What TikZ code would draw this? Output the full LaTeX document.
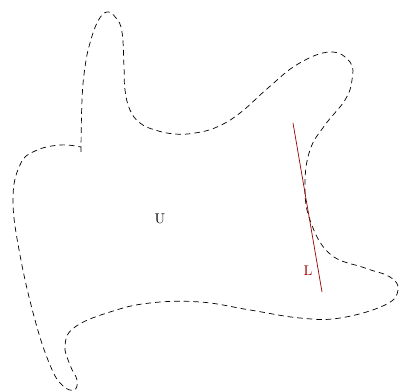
\documentclass[tikz,border=0pt]{standalone}
\usetikzlibrary{positioning}

\begin{document}
\begin{tikzpicture}[
    x=0.025cm, y=-0.025cm,
    region/.style={draw, dash pattern=on 4pt off 2.8pt, line width=0.5pt},
    tangent/.style={draw=red!60!black, line width=0.5pt},
    lbl/.style={inner sep=1pt, font=\normalsize}
]
\useasboundingbox (0,0) rectangle (400,392);

% the open set U
\draw[region] plot[smooth, tension=0.7] coordinates {
    (81,152) (82,100) (85,67) (90,43) (98,21) (107,12) (116,18) (122,32)
    (124,67) (125,90) (130,110) (140,123) (155,130) (175,134) (195,133)
    (217,127) (240,113) (268,88) (298,64) (330,52)
    (350,62) (352,80) (345,100) (325,125) (310,150) (305,185) (310,220)
    (330,254) (365,268) (390,277) (398,290) (385,305) (340,318) (300,318)
    (250,310) (200,302) (150,303) (110,312) (75,327) (65,345) (70,365)
    (77,380) (74,390) (62,385) (50,365) (35,320) (20,255) (13,200)
    (20,165) (35,151) (60,145) (81,147)} -- cycle;

\node[lbl] (u) at (160,219) {U};

% the line L
\coordinate (ltop) at (293,123);
\coordinate (lbot) at (322,292);
\draw[tangent] (ltop) -- (lbot);
\node[lbl, text=red!60!black] (l) at (308,271) {L};

\end{tikzpicture}
\end{document}
